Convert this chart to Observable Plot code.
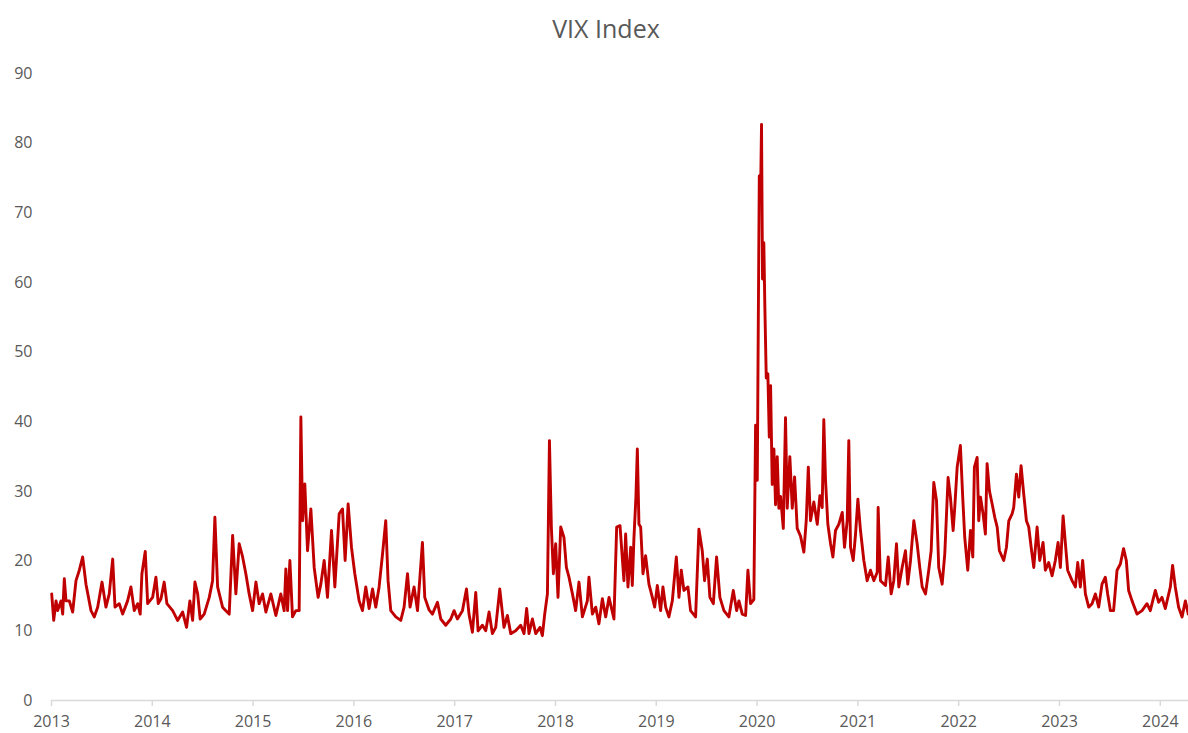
<!DOCTYPE html>
<html>
<head>
<meta charset="utf-8">
<script src="https://cdn.jsdelivr.net/npm/d3@7"></script>
<script src="https://cdn.jsdelivr.net/npm/@observablehq/plot@0.6"></script>
<style>
  html, body { margin: 0; padding: 0; background: #fff; }
  #title { height: 56px; line-height: 56px; text-align: center; padding-left: 24px; box-sizing: border-box; width: 1188px;
           font-family: "Open Sans", sans-serif; font-size: 25px; color: #595959; }
</style>
</head>
<body>
<div id="title">VIX Index</div>
<div id="chart"></div>
<script>
const chartTitle = "VIX Index";
const yearTicks = [2013,2014,2015,2016,2017,2018,2019,2020,2021,2022,2023,2024];
const valueTicks = [0,10,20,30,40,50,60,70,80,90];

const years = [
2013.002,2013.022,2013.045,2013.061,2013.094,2013.111,2013.127,2013.144,2013.177,2013.210,
2013.243,2013.276,2013.309,2013.342,2013.392,2013.424,2013.458,2013.501,2013.540,2013.573,
2013.607,2013.630,2013.672,2013.706,2013.755,2013.788,2013.821,2013.855,2013.880,2013.897,
2013.930,2013.954,2014.003,2014.036,2014.059,2014.086,2014.118,2014.145,2014.202,2014.251,
2014.301,2014.340,2014.373,2014.400,2014.423,2014.450,2014.475,2014.515,2014.565,2014.598,
2014.621,2014.648,2014.697,2014.730,2014.763,2014.797,2014.829,2014.862,2014.896,2014.928,
2014.961,2014.995,2015.028,2015.060,2015.094,2015.127,2015.176,2015.226,2015.275,2015.308,
2015.325,2015.342,2015.365,2015.391,2015.424,2015.457,2015.474,2015.491,2015.513,2015.540,
2015.573,2015.606,2015.645,2015.672,2015.705,2015.738,2015.778,2015.811,2015.854,2015.887,
2015.913,2015.943,2015.976,2016.009,2016.052,2016.085,2016.118,2016.151,2016.185,2016.217,
2016.250,2016.284,2016.316,2016.339,2016.366,2016.416,2016.465,2016.498,2016.532,2016.557,
2016.597,2016.631,2016.680,2016.703,2016.746,2016.779,2016.829,2016.862,2016.911,2016.961,
2016.994,2017.027,2017.077,2017.117,2017.142,2017.176,2017.209,2017.232,2017.275,2017.308,
2017.341,2017.374,2017.407,2017.447,2017.489,2017.523,2017.556,2017.605,2017.655,2017.688,
2017.714,2017.737,2017.771,2017.804,2017.847,2017.870,2017.893,2017.920,2017.940,2017.959,
2017.979,2018.002,2018.025,2018.052,2018.084,2018.108,2018.134,2018.168,2018.200,2018.233,
2018.267,2018.316,2018.332,2018.366,2018.399,2018.431,2018.465,2018.498,2018.531,2018.580,
2018.607,2018.640,2018.679,2018.696,2018.719,2018.746,2018.762,2018.778,2018.798,2018.812,
2018.828,2018.845,2018.868,2018.894,2018.927,2018.961,2018.984,2019.010,2019.043,2019.066,
2019.093,2019.125,2019.159,2019.199,2019.225,2019.248,2019.274,2019.314,2019.340,2019.390,
2019.423,2019.456,2019.479,2019.506,2019.532,2019.566,2019.598,2019.631,2019.671,2019.720,
2019.764,2019.797,2019.820,2019.853,2019.886,2019.909,2019.935,2019.968,2019.985,2020.002,
2020.012,2020.022,2020.035,2020.044,2020.054,2020.067,2020.077,2020.091,2020.107,2020.121,
2020.134,2020.150,2020.167,2020.183,2020.200,2020.216,2020.233,2020.260,2020.282,2020.299,
2020.325,2020.349,2020.372,2020.398,2020.431,2020.464,2020.488,2020.508,2020.530,2020.563,
2020.597,2020.623,2020.646,2020.662,2020.679,2020.702,2020.729,2020.752,2020.778,2020.811,
2020.845,2020.867,2020.894,2020.910,2020.927,2020.954,2020.977,2021.000,2021.026,2021.059,
2021.092,2021.125,2021.158,2021.192,2021.201,2021.224,2021.274,2021.301,2021.330,2021.356,
2021.383,2021.406,2021.439,2021.472,2021.495,2021.522,2021.555,2021.588,2021.614,2021.638,
2021.671,2021.703,2021.727,2021.753,2021.780,2021.802,2021.836,2021.862,2021.895,2021.918,
2021.945,2021.961,2021.985,2022.017,2022.040,2022.060,2022.090,2022.117,2022.140,2022.156,
2022.183,2022.199,2022.216,2022.242,2022.265,2022.282,2022.305,2022.332,2022.358,2022.382,
2022.404,2022.447,2022.474,2022.497,2022.530,2022.546,2022.573,2022.596,2022.619,2022.645,
2022.672,2022.695,2022.719,2022.745,2022.778,2022.804,2022.837,2022.860,2022.893,2022.927,
2022.959,2022.986,2023.009,2023.036,2023.059,2023.081,2023.125,2023.158,2023.181,2023.207,
2023.230,2023.257,2023.290,2023.323,2023.356,2023.389,2023.422,2023.455,2023.478,2023.505,
2023.537,2023.571,2023.604,2023.636,2023.663,2023.686,2023.720,2023.769,2023.819,2023.868,
2023.901,2023.951,2023.984,2024.017,2024.050,2024.100,2024.122,2024.149,2024.182,2024.216,
2024.249,2024.278
];

const vix = [
15.3,11.5,14.3,12.9,14.3,12.4,17.5,14.3,14.3,12.7,
17.2,18.7,20.6,16.7,12.9,12.0,13.4,17.0,13.4,15.3,
20.3,13.4,13.9,12.4,14.3,16.3,12.9,13.9,12.4,18.2,
21.4,13.9,14.8,17.7,13.9,14.6,17.0,13.9,12.9,11.5,
12.7,10.5,14.3,11.5,17.0,15.3,11.7,12.4,14.8,17.2,
26.3,16.3,13.4,12.9,12.4,23.7,15.3,22.5,20.6,18.2,
15.3,12.9,17.0,13.9,15.3,12.7,15.3,12.2,15.3,12.9,
18.9,12.9,20.1,12.0,12.9,12.9,40.7,25.8,31.1,21.5,
27.5,19.1,14.8,16.7,20.1,14.8,24.4,16.3,26.8,27.5,
20.1,28.2,22.0,18.2,14.3,12.9,16.3,13.2,16.0,13.4,
16.3,21.0,25.8,17.2,12.9,12.0,11.5,13.4,18.2,13.4,
16.3,12.9,22.7,14.8,13.0,12.4,14.1,11.7,10.8,11.7,
12.9,11.7,12.9,16.0,12.4,9.8,15.5,10.0,10.8,10.0,
12.7,9.6,10.5,16.0,10.5,12.2,9.6,10.0,10.8,9.6,
13.2,9.6,11.7,9.6,10.5,9.3,12.4,15.3,37.3,24.9,
18.2,22.5,14.8,24.9,23.4,19.1,17.7,15.3,12.9,17.0,
12.0,14.3,17.7,12.4,13.4,11.0,14.6,12.0,14.8,11.7,
24.9,25.1,17.2,23.9,16.3,22.0,16.5,23.2,29.2,36.1,
25.3,24.9,18.2,20.8,16.7,14.8,13.4,16.5,12.9,16.3,
13.4,12.0,14.3,20.6,14.8,18.7,15.8,16.3,12.9,12.0,
24.6,21.5,17.2,20.3,14.8,13.9,20.6,14.8,12.9,12.0,
15.8,12.9,14.3,12.4,12.2,18.7,13.9,14.5,39.5,31.6,
54.3,75.3,73.1,82.7,60.5,65.7,56.6,46.3,46.9,37.8,
45.2,31.0,36.1,28.1,35.0,27.6,29.3,24.7,40.6,27.6,
35.0,27.6,32.1,24.7,23.6,21.3,25.9,33.5,25.8,28.5,
25.3,29.4,27.7,40.3,31.6,25.3,22.5,20.6,24.4,25.3,
27.0,22.0,25.8,37.3,22.0,20.1,23.9,28.9,24.4,20.1,
17.2,18.7,17.2,18.4,27.7,17.2,16.5,20.6,15.3,17.2,
22.5,16.3,19.1,21.5,16.7,20.1,25.8,22.5,19.1,16.3,
15.3,18.7,21.5,31.3,28.7,19.1,16.7,21.0,32.0,29.2,
24.4,27.7,33.5,36.6,29.2,23.4,18.7,24.4,20.6,33.5,
34.9,25.8,29.2,26.8,23.9,34.0,30.1,28.2,26.3,24.9,
21.5,20.1,22.0,25.8,26.8,27.7,32.5,29.2,33.7,29.7,
25.8,24.9,22.0,19.1,24.9,20.1,22.7,18.7,19.8,17.9,
20.1,22.7,19.1,26.5,22.5,18.7,17.2,16.3,19.8,16.3,
20.1,15.3,13.4,13.9,15.3,13.4,16.7,17.7,15.3,12.9,
12.9,18.7,19.6,21.8,20.1,15.8,14.3,12.4,12.9,13.9,
12.9,15.8,14.1,14.8,13.2,16.3,19.4,16.3,13.4,12.0,
14.3,12.4
];

const data = years.map((t, i) => ({t, v: vix[i]}));

const chart = Plot.plot({
  width: 1188,
  height: 677,
  marginLeft: 51,
  marginRight: 0,
  marginTop: 17,
  marginBottom: 33,
  x: {domain: [2013, 2024.28]},
  y: {domain: [0, 90]},
  style: {fontFamily: "'Open Sans', sans-serif", fontSize: "16px", color: "#595959", background: "#fff", overflow: "visible"},
  marks: [
    Plot.ruleY([0], {stroke: "#d9d9d9", strokeWidth: 1.5}),
    Plot.axisX({ticks: yearTicks, tickFormat: d => String(d), tickSize: 6, stroke: "#d9d9d9", strokeWidth: 1.5, tickPadding: 9, label: null}),
    Plot.axisY({ticks: valueTicks, tickSize: 0, tickPadding: 19, label: null}),
    Plot.line(data, {x: "t", y: "v", stroke: "#C00000", strokeWidth: 2.9, strokeLinejoin: "round"})
  ]
});
document.getElementById("chart").appendChild(chart);
</script>
</body>
</html>
